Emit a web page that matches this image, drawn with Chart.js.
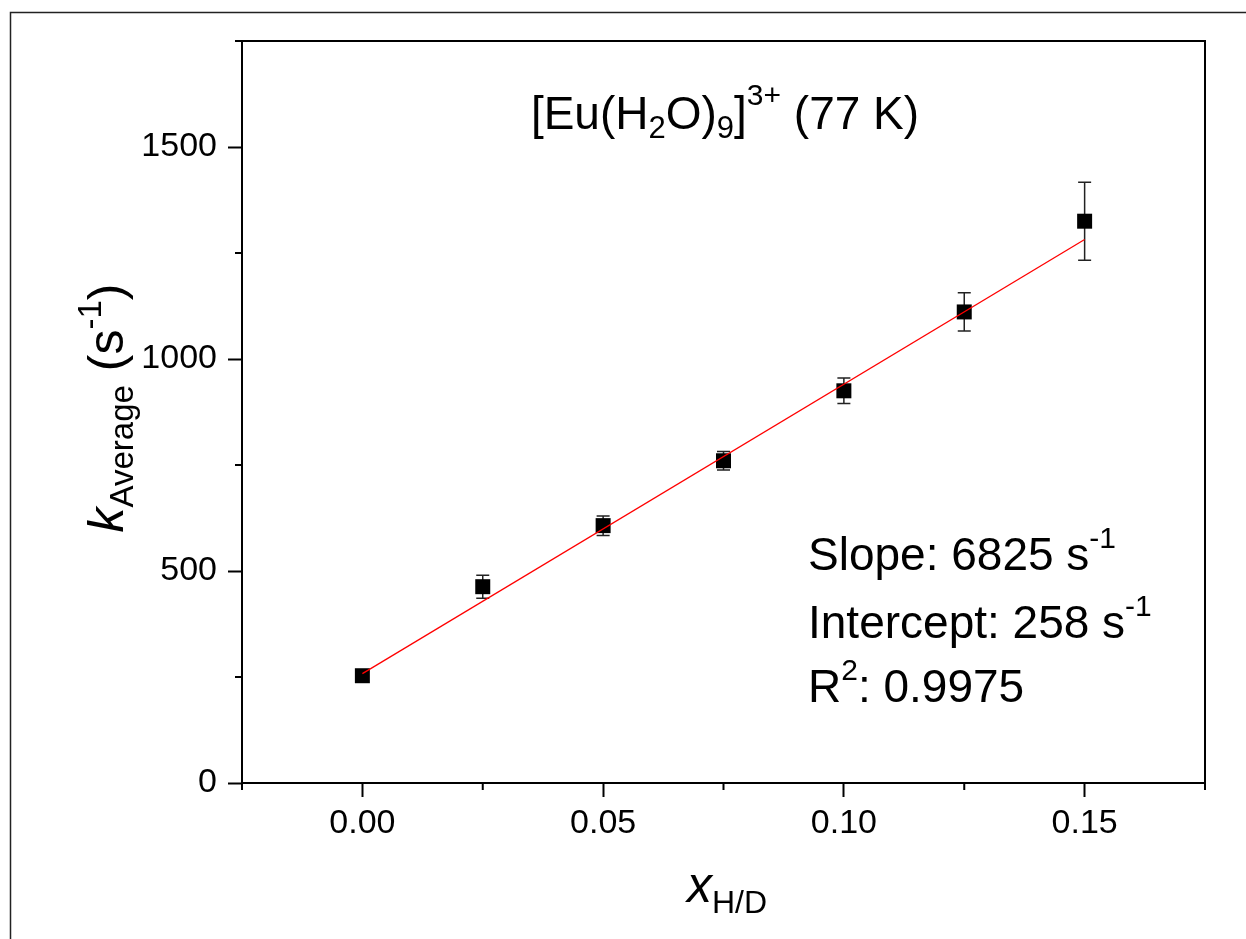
<!DOCTYPE html>
<html>
<head>
<meta charset="utf-8">
<script src="https://cdn.jsdelivr.net/npm/chart.js@4.4.1/dist/chart.umd.min.js"></script>
<style>
  html, body { margin: 0; padding: 0; background: #fff; }
  canvas { display: block; }
</style>
</head>
<body>
<canvas id="grafica" width="1246" height="939"></canvas>
<script>
// datos medidos
const xHD = [0, 0.025, 0.05, 0.075, 0.1, 0.125, 0.15]
const kAvg = [253, 463, 607, 760, 925, 1111, 1325]
const kErr = [6, 27, 23, 22, 30, 45, 92]

// ajuste lineal
const fitSlope = 6825
const fitIntercept = 258
const fitR2 = '0.9975'
const fitRange = [0, 0.15]

// ticks con etiqueta
const xMajor = [0, 0.05, 0.10, 0.15]
const yMajor = [0, 500, 1000, 1500]

const FONT = '"Liberation Sans", Arial, sans-serif'
const esMayor = (lista, v) => lista.some(m => Math.abs(m - v) < 1e-9)

// texto con subindices / superindices: [texto, tamaño, desplazamiento, cursiva]
function textoRico(ctx, partes, x, y, centrar) {
  let ancho = 0
  partes.forEach(([t, size, dy, it]) => {
    ctx.font = (it ? 'italic ' : '') + size + 'px ' + FONT
    ancho += ctx.measureText(t).width
  })
  let cx = centrar ? x - ancho / 2 : x
  partes.forEach(([t, size, dy, it]) => {
    ctx.font = (it ? 'italic ' : '') + size + 'px ' + FONT
    ctx.fillText(t, cx, y + (dy || 0))
    cx += ctx.measureText(t).width
  })
}

const barrasError = {
  id: 'barrasError',
  beforeDatasetsDraw(chart) {
    const { ctx, scales: { x, y } } = chart
    ctx.save()
    ctx.strokeStyle = '#222'
    ctx.lineWidth = 1.5
    xHD.forEach((xv, i) => {
      const px = x.getPixelForValue(xv)
      const top = y.getPixelForValue(kAvg[i] + kErr[i])
      const bot = y.getPixelForValue(kAvg[i] - kErr[i])
      ctx.beginPath()
      ctx.moveTo(px, top); ctx.lineTo(px, bot)
      ctx.moveTo(px - 6.5, top); ctx.lineTo(px + 6.5, top)
      ctx.moveTo(px - 6.5, bot); ctx.lineTo(px + 6.5, bot)
      ctx.stroke()
    })
    ctx.restore()
  }
}

const marco = {
  id: 'marco',
  afterDraw(chart) {
    const { ctx, chartArea: a, scales } = chart
    ctx.save()
    // marco exterior
    ctx.strokeStyle = '#222'
    ctx.lineWidth = 1.5
    ctx.beginPath()
    ctx.moveTo(10.5, 939); ctx.lineTo(10.5, 12.5); ctx.lineTo(1246, 12.5)
    ctx.stroke()

    // lados superior y derecho del area
    ctx.strokeStyle = '#000'
    ctx.lineWidth = 2
    ctx.beginPath()
    ctx.moveTo(a.left, a.top); ctx.lineTo(a.right, a.top); ctx.lineTo(a.right, a.bottom)
    ctx.stroke()

    // ticks menores
    ctx.beginPath()
    scales.x.ticks.forEach((t, i) => {
      if (esMayor(xMajor, t.value)) return
      const px = scales.x.getPixelForTick(i)
      ctx.moveTo(px, a.bottom); ctx.lineTo(px, a.bottom + 7)
    })
    scales.y.ticks.forEach((t, i) => {
      if (esMayor(yMajor, t.value)) return
      const py = scales.y.getPixelForTick(i)
      ctx.moveTo(a.left, py); ctx.lineTo(a.left - 7, py)
    })
    ctx.stroke()

    // textos
    ctx.fillStyle = '#000'
    ctx.textAlign = 'left'
    ctx.textBaseline = 'alphabetic'
    textoRico(ctx, [
      ['[Eu(H', 46], ['2', 31, 9], ['O)', 46], ['9', 31, 9], [']', 46], ['3+', 30, -24], [' (77 K)', 46]
    ], 725, 129, true)

    textoRico(ctx, [['Slope: ' + fitSlope + ' s', 46], ['-1', 30, -22]], 808, 570)
    textoRico(ctx, [['Intercept: ' + fitIntercept + ' s', 46], ['-1', 30, -22]], 808, 638)
    textoRico(ctx, [['R', 46], ['2', 30, -22], [': ' + fitR2, 46]], 808, 702)

    textoRico(ctx, [['x', 50, 0, true], ['H/D', 32, 11]], 727, 902, true)

    ctx.translate(123, (a.top + a.bottom) / 2 - 4)
    ctx.rotate(-Math.PI / 2)
    textoRico(ctx, [['k', 50, 0, true], ['Average', 33, 10], [' (s', 50], ['-1', 33, -22], [')', 50]], 0, 0, true)
    ctx.restore()
  }
}

const ejeX = {
  type: 'linear',
  min: -0.025,
  max: 0.175,
  afterFit: s => { s.height = 156 },
  grid: {
    drawOnChartArea: false,
    tickLength: 14,
    tickWidth: 2,
    tickColor: c => esMayor(xMajor, c.tick.value) ? '#000' : 'rgba(0,0,0,0)'
  },
  border: { color: '#000', width: 2 },
  ticks: {
    stepSize: 0.025,
    padding: 6,
    color: '#000',
    font: { family: FONT, size: 34 },
    maxRotation: 0,
    autoSkip: false,
    callback: v => esMayor(xMajor, v) ? Math.abs(v).toFixed(2) : ''
  }
}

const ejeY = {
  type: 'linear',
  min: 0,
  max: 1750,
  afterFit: s => { s.width = 242 },
  grid: {
    drawOnChartArea: false,
    tickLength: 14,
    tickWidth: 2,
    tickColor: c => esMayor(yMajor, c.tick.value) ? '#000' : 'rgba(0,0,0,0)'
  },
  border: { color: '#000', width: 2 },
  ticks: {
    stepSize: 250,
    padding: 11,
    color: '#000',
    font: { family: FONT, size: 34 },
    autoSkip: false,
    callback: v => esMayor(yMajor, v) ? String(v) : ''
  }
}

new Chart(document.getElementById('grafica'), {
  type: 'scatter',
  data: {
    datasets: [
      {
        type: 'line',
        data: fitRange.map(x => ({ x, y: fitIntercept + fitSlope * x })),
        borderColor: '#ff0000',
        borderWidth: 1.3,
        pointRadius: 0,
        order: 0
      },
      {
        data: xHD.map((x, i) => ({ x, y: kAvg[i] })),
        pointStyle: 'rect',
        pointRadius: 10.6,
        backgroundColor: '#000',
        borderColor: '#000',
        borderWidth: 0,
        order: 1
      }
    ]
  },
  options: {
    responsive: false,
    devicePixelRatio: 1,
    animation: false,
    layout: { padding: { left: 0, top: 41, right: 41, bottom: 0 } },
    scales: { x: ejeX, y: ejeY },
    plugins: { legend: { display: false }, tooltip: { enabled: false } }
  },
  plugins: [barrasError, marco]
})
</script>
</body>
</html>
